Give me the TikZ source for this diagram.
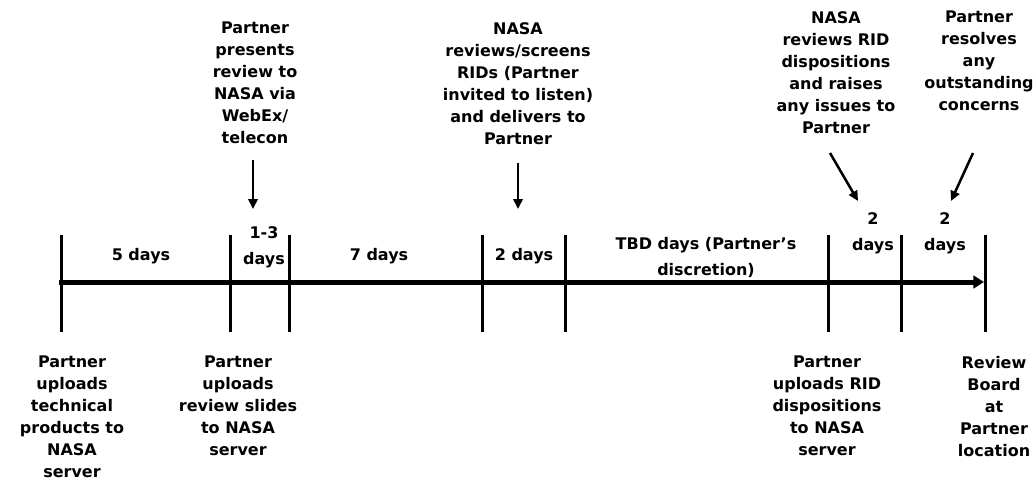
\documentclass[tikz,border=0pt]{standalone}
\usepackage{fontspec}
\setmainfont{DejaVu Sans}
\usetikzlibrary{arrows.meta}
\tikzset{
  lbl/.style={font=\bfseries\fontsize{12pt}{16.5pt}\selectfont, align=center, inner sep=0pt, anchor=north},
  dur/.style={font=\bfseries\fontsize{12pt}{19.5pt}\selectfont, align=center, inner sep=0pt, anchor=north},
  tick/.style={line width=2.25pt},
  axis/.style={line width=3.75pt, -{Triangle[length=8pt,width=9.5pt]}},
  pointer/.style={line width=1.9pt, -{Triangle[length=7.5pt,width=7pt]}}
}
\begin{document}
\begin{tikzpicture}[x=0.75pt,y=-0.75pt]
\useasboundingbox (0,0) rectangle (1034,497);

% tick marks along the timeline
\foreach \n/\x in {0/61,1/230,2/289,3/482,4/565,5/828,6/901,7/985}{
  \coordinate (tt\n) at (\x,235);
  \coordinate (tb\n) at (\x,332);
  \draw[tick] (tt\n) -- (tb\n);
}

% main timeline
\coordinate (start) at (59,282);
\coordinate (finish) at (984,282);
\draw[axis] (start) -- (finish);

% durations above the line
\node[dur] (d1) at (141,248) {5 days};
\node[dur] (d2) at (264,226) {1-3\\days};
\node[dur] (d3) at (379,248) {7 days};
\node[dur] (d4) at (524,248) {2 days};
\node[dur] (d5) at (706,237) {TBD days (Partner’s\\discretion)};
\node[dur] (d6) at (873,212) {2\\days};
\node[dur] (d7) at (945,212) {2\\days};

% events above the timeline
\node[lbl] (e1) at (255,22) {Partner\\presents\\review to\\NASA via\\WebEx/\\telecon};
\node[lbl] (e2) at (518,22) {NASA\\reviews/screens\\RIDs (Partner\\invited to listen)\\and delivers to\\Partner};
\node[lbl] (e3) at (836,11) {NASA\\reviews RID\\dispositions\\and raises\\any issues to\\Partner};
\node[lbl] (e4) at (979,11) {Partner\\resolves\\any\\outstanding\\concerns};

% pointers from events
\coordinate (p1a) at (253,160); \coordinate (p1b) at (253,209);
\coordinate (p2a) at (518,163); \coordinate (p2b) at (518,209);
\coordinate (p3a) at (830,153); \coordinate (p3b) at (858,201);
\coordinate (p4a) at (973,153); \coordinate (p4b) at (951,201);
\draw[pointer] (p1a) -- (p1b);
\draw[pointer] (p2a) -- (p2b);
\draw[pointer] (p3a) -- (p3b);
\draw[pointer] (p4a) -- (p4b);

% events below the timeline
\node[lbl] (b1) at (72,356) {Partner\\uploads\\technical\\products to\\NASA\\server};
\node[lbl] (b2) at (238,356) {Partner\\uploads\\review slides\\to NASA\\server};
\node[lbl] (b3) at (827,356) {Partner\\uploads RID\\dispositions\\to NASA\\server};
\node[lbl] (b4) at (994,356) {Review\\Board\\at\\Partner\\location};
\end{tikzpicture}
\end{document}
